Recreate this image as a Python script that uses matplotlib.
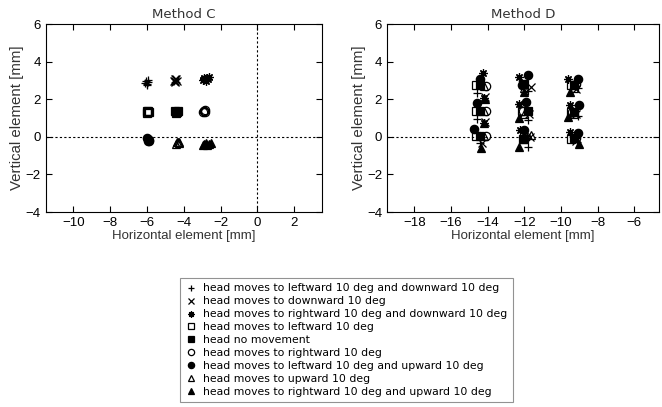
import numpy as np
import matplotlib.pyplot as plt

# legend labels, one per head movement
labels = [
    'head moves to leftward 10 deg and downward 10 deg',
    'head moves to downward 10 deg',
    'head moves to rightward 10 deg and downward 10 deg',
    'head moves to leftward 10 deg',
    'head no movement',
    'head moves to rightward 10 deg',
    'head moves to leftward 10 deg and upward 10 deg',
    'head moves to upward 10 deg',
    'head moves to rightward 10 deg and upward 10 deg',
]

# Method C: one tight cluster per head movement
c_x = [
    [-6.06, -5.94, -6.02, -5.97, -6.08, -5.95],
    [-4.50, -4.38, -4.45, -4.55, -4.40, -4.47],
    [-2.95, -2.75, -2.85, -2.70, -2.90, -2.80, -2.65, -2.88],
    [-6.00, -5.90, -5.95, -6.02, -5.92],
    [-4.45, -4.35, -4.40, -4.32, -4.42],
    [-2.92, -2.82, -2.88, -2.95, -2.85],
    [-5.98, -5.90, -5.95, -5.87, -5.93],
    [-4.38, -4.25, -4.32, -4.40, -4.28],
    [-2.95, -2.80, -2.60, -2.50, -2.72, -2.88],
]
c_y = [
    [2.95, 2.92, 2.78, 2.83, 2.88, 3.00],
    [3.05, 2.95, 2.90, 2.98, 3.08, 2.99],
    [3.00, 3.15, 3.10, 3.05, 3.12, 2.98, 3.20, 3.05],
    [1.40, 1.30, 1.34, 1.28, 1.40],
    [1.38, 1.30, 1.34, 1.40, 1.28],
    [1.40, 1.30, 1.36, 1.30, 1.42],
    [-0.05, -0.15, -0.10, -0.22, -0.20],
    [-0.25, -0.35, -0.30, -0.37, -0.28],
    [-0.42, -0.35, -0.40, -0.32, -0.45, -0.38],
]

# Method D: nine gaze targets per head movement
d_x = [
    [-14.60, -14.60, -14.40, -11.80, -11.80, -11.80, -9.10, -9.10, -9.15],
    [-14.15, -14.15, -14.30, -11.65, -11.75, -11.70, -9.20, -9.20, -9.20],
    [-14.27, -14.20, -14.20, -12.27, -12.27, -12.25, -9.60, -9.50, -9.50],
    [-14.64, -14.64, -14.64, -12.10, -12.15, -12.10, -9.45, -9.45, -9.45],
    [-14.40, -14.40, -14.40, -12.00, -11.82, -12.00, -9.30, -9.30, -9.30],
    [-14.10, -14.10, -14.10, -12.15, -12.10, -11.90, -9.20, -9.40, -9.20],
    [-14.42, -14.60, -14.75, -11.82, -11.90, -12.00, -9.09, -9.04, -9.10],
    [-14.20, -14.20, -14.20, -12.00, -12.00, -11.64, -9.30, -9.30, -9.30],
    [-14.15, -14.20, -14.35, -12.05, -12.27, -12.27, -9.49, -9.60, -9.00],
]
d_y = [
    [2.31, 0.95, -0.31, 2.45, 0.90, -0.52, 2.58, 1.10, -0.30],
    [2.10, 0.78, -0.35, 2.63, 1.20, 0.00, 2.55, 1.20, -0.20],
    [3.38, 2.08, 0.75, 3.16, 1.74, 0.38, 3.09, 1.67, 0.24],
    [2.74, 1.38, 0.04, 2.80, 1.37, -0.10, 2.75, 1.34, -0.10],
    [2.74, 1.38, 0.04, 2.80, 1.37, -0.10, 2.75, 1.34, -0.08],
    [2.70, 1.36, 0.04, 2.75, 1.37, 0.00, 2.80, 1.34, -0.05],
    [3.09, 1.82, 0.40, 3.30, 1.83, 0.36, 3.09, 1.67, 0.18],
    [2.70, 1.35, 0.02, 2.60, 1.20, 0.10, 2.60, 1.20, 0.00],
    [2.00, 0.72, -0.60, 2.38, 0.98, -0.52, 2.40, 1.07, -0.40],
]

markers = ['+', 'x', (8, 2, 0), 's', 's', 'o', 'o', '^', '^']
filled = [True, True, True, False, True, False, True, False, True]

txt_col = '#333333'


def draw_panel(ax, xs, ys, title, xlim, xticks, vline):
    for i in range(len(labels)):
        ax.plot(xs[i], ys[i], linestyle='none', marker=markers[i],
                color='black', markersize=6, markeredgewidth=0.9,
                fillstyle='full' if filled[i] else 'none', label=labels[i])
    ax.axhline(0, color='black', lw=0.8, ls=(0, (2, 2)))
    if vline:
        ax.axvline(0, color='black', lw=0.8, ls=(0, (2, 2)))
    ax.set_xlim(xlim)
    ax.set_ylim(-4, 6)
    ax.set_xticks(xticks)
    ax.set_yticks(np.arange(-4, 7, 2))
    ax.tick_params(direction='in', top=True, right=True, length=4,
                   labelsize=9.5, width=0.8)
    for lab in ax.get_xticklabels() + ax.get_yticklabels():
        lab.set_family('Liberation Sans')
    ax.set_title(title, fontsize=9.5, color=txt_col, pad=4)
    ax.set_xlabel('Horizontal element [mm]', fontsize=9.5, color=txt_col,
                  family='Liberation Sans', labelpad=1)
    ax.set_ylabel('Vertical element [mm]', fontsize=10.8, color=txt_col,
                  family='Liberation Sans', labelpad=1)
    for s in ax.spines.values():
        s.set_linewidth(0.8)


fig = plt.figure(figsize=(6.62, 4.07), dpi=100)
ax1 = fig.add_axes([0.069, 0.479, 0.417, 0.462])
ax2 = fig.add_axes([0.5846, 0.479, 0.411, 0.462])

draw_panel(ax1, c_x, c_y, 'Method C', (-11.5, 3.5), np.arange(-10, 3, 2), True)
draw_panel(ax2, d_x, d_y, 'Method D', (-19.5, -4.65), np.arange(-18, -5, 2), False)

handles, labs = ax1.get_legend_handles_labels()
leg = fig.legend(handles, labs, loc='upper center', bbox_to_anchor=(0.523, 0.317),
                 fontsize=7.85, frameon=True, fancybox=False, edgecolor='#777777',
                 handlelength=1.0, handletextpad=0.6, labelspacing=0.27,
                 borderpad=0.5, borderaxespad=0, markerscale=0.75)
leg.get_frame().set_linewidth(0.8)

fig.savefig('out.png', dpi=100)
